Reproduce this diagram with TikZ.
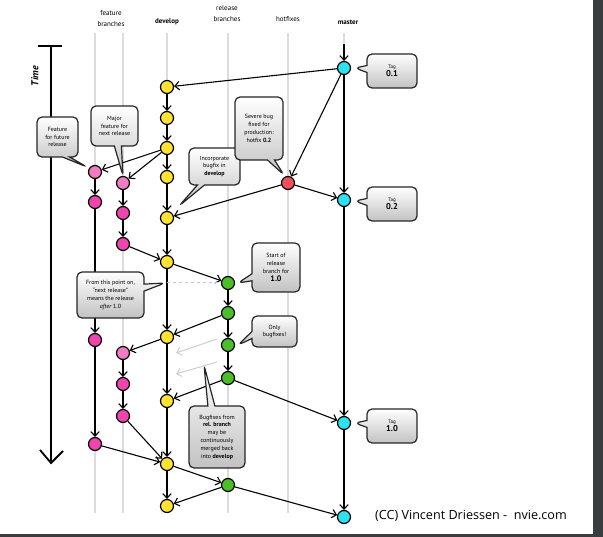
\documentclass[tikz,border=0pt]{standalone}
\usepackage{fontspec}
\setmainfont{PT Sans}
\newfontfamily\creditfont{Open Sans}
\usepackage{tikz}
\usepackage{xcolor}
\usetikzlibrary{positioning,shapes.callouts,arrows.meta}

\definecolor{devyellow}{HTML}{FFE233}
\definecolor{featpink}{HTML}{EE45AE}
\definecolor{featlight}{HTML}{F27CC4}
\definecolor{relgreen}{HTML}{4CBE2A}
\definecolor{mastercyan}{HTML}{2DE1F1}
\definecolor{hotred}{HTML}{F0505C}
\definecolor{lanegray}{HTML}{DCDCDC}
\definecolor{framegray}{HTML}{3A3D3F}

\begin{document}
\begin{tikzpicture}[x=1pt,y=-1pt]
\tikzstyle{every node}+=[inner sep=0pt]
\tikzstyle{commit}=[circle, draw=black, line width=1.2pt, minimum size=13pt]
\tikzstyle{flow}=[line width=1.1pt, -{Straight Barb[length=4.5pt,width=8.5pt]}]
\tikzstyle{ghost}=[flow, draw=black!18]
\tikzstyle{lane}=[line width=2pt, draw=lanegray]
\tikzstyle{lanelabel}=[align=center, font=\fontsize{7}{11}\selectfont]
\tikzstyle{bubble}=[rectangle callout, rounded corners=5pt, draw=black!85, line width=1.2pt,
  top color=white, bottom color=black!24, align=center, callout pointer width=7pt,
  font=\fontsize{6}{7.8}\selectfont]
\useasboundingbox (0,0) rectangle (603,537);
\fill[framegray] (593,0) rectangle (603,537);
\fill[framegray] (0,534) rectangle (603,537);
% lanes
\foreach \x in {95,123,167,228,288,344}
  \draw[lane] (\x,33) -- (\x,513);
\node[lanelabel] (lblfeat) at (111,18.5) {feature\\branches};
\node[lanelabel, font=\bfseries\fontsize{7}{11}\selectfont] (lbldev) at (167,22) {develop};
\node[lanelabel] (lblrel) at (227,13.5) {release\\branches};
\node[lanelabel] (lblhot) at (288,19) {hotfixes};
\node[lanelabel, font=\bfseries\fontsize{7}{11}\selectfont] (lblmaster) at (348,22) {master};
% time axis
\draw[line width=2pt] (38,46) -- (62,46);
\draw[line width=1.8pt] (51,46) -- (51,461);
\draw[line width=1.8pt] (40,450) -- (51,463) -- (63,451);
\node[rotate=90, font=\bfseries\itshape\fontsize{10}{12}\selectfont] (timelbl) at (35,76) {Time};
% master and hotfix
\node[commit, fill=mastercyan] (m1) at (344,68) {};
\node[commit, fill=mastercyan] (m2) at (344,200) {};
\node[commit, fill=mastercyan] (m3) at (344,423) {};
\node[commit, fill=mastercyan] (m4) at (344,517) {};
\node[commit, fill=hotred] (h1) at (288,183) {};
% develop
\node[commit, fill=devyellow] (d1) at (167,87) {};
\node[commit, fill=devyellow] (d2) at (167,118) {};
\node[commit, fill=devyellow] (d3) at (167,148) {};
\node[commit, fill=devyellow] (d4) at (167,177) {};
\node[commit, fill=devyellow] (d5) at (167,218) {};
\node[commit, fill=devyellow] (d6) at (167,262) {};
\node[commit, fill=devyellow] (d7) at (167,337) {};
\node[commit, fill=devyellow] (d8) at (167,401) {};
\node[commit, fill=devyellow] (d9) at (167,464) {};
\node[commit, fill=devyellow] (d10) at (167,506) {};
% release
\node[commit, fill=relgreen] (r1) at (228,283) {};
\node[commit, fill=relgreen] (r2) at (228,313) {};
\node[commit, fill=relgreen] (r3) at (228,345) {};
\node[commit, fill=relgreen] (r4) at (228,378) {};
\node[commit, fill=relgreen] (r5) at (228,485) {};
% features
\node[commit, fill=featlight] (fa1) at (95,172) {};
\node[commit, fill=featpink] (fa2) at (95,202) {};
\node[commit, fill=featpink] (fa3) at (95,340) {};
\node[commit, fill=featpink] (fa4) at (95,444) {};
\node[commit, fill=featlight] (fb1) at (123,183) {};
\node[commit, fill=featpink] (fb2) at (123,213) {};
\node[commit, fill=featpink] (fb3) at (123,244) {};
\node[commit, fill=featlight] (fb4) at (123,353) {};
\node[commit, fill=featpink] (fb5) at (123,384) {};
\node[commit, fill=featpink] (fb6) at (123,416) {};
\coordinate (mtop) at (344,44);
\coordinate (devmark) at (167,283);
\coordinate (gsa) at (217,339);
\coordinate (gea) at (176,353);
\coordinate (gsb) at (217,362);
\coordinate (geb) at (176,374);
% connectors
\draw[flow] (mtop) -- (m1);
\draw[flow] (m1) -- (m2);
\draw[flow] (m2) -- (m3);
\draw[flow] (m3) -- (m4);
\draw[flow] (m1) -- (d1);
\draw[flow] (m1) -- (h1);
\draw[flow] (h1) -- (m2);
\draw[flow] (h1) -- (d5);
\draw[flow] (d1) -- (d2);
\draw[flow] (d2) -- (d3);
\draw[flow] (d3) -- (d4);
\draw[flow] (d4) -- (d5);
\draw[flow] (d5) -- (d6);
\draw[flow] (d6) -- (d7);
\draw[flow] (d7) -- (d8);
\draw[flow] (d8) -- (d9);
\draw[flow] (d9) -- (d10);
\draw[flow] (d3) -- (fa1);
\draw[flow] (d3) -- (fb1);
\draw[flow] (fa1) -- (fa2);
\draw[flow] (fa2) -- (fa3);
\draw[flow] (fa3) -- (fa4);
\draw[flow] (fa4) -- (d9);
\draw[flow] (fb1) -- (fb2);
\draw[flow] (fb2) -- (fb3);
\draw[flow] (fb3) -- (d6);
\draw[flow] (d7) -- (fb4);
\draw[flow] (fb4) -- (fb5);
\draw[flow] (fb5) -- (fb6);
\draw[flow] (fb6) -- (d9);
\draw[flow] (d6) -- (r1);
\draw[flow] (r1) -- (r2);
\draw[flow] (r2) -- (r3);
\draw[flow] (r3) -- (r4);
\draw[flow] (r2) -- (d7);
\draw[flow] (r4) -- (d8);
\draw[flow] (r4) -- (m3);
\draw[flow] (d9) -- (r5);
\draw[flow] (r5) -- (d10);
\draw[flow] (r5) -- (m4);
\draw[dashed, draw=black!22, line width=1pt] (devmark) -- (r1);
\draw[ghost] (gsa) -- (gea);
\draw[ghost] (gsb) -- (geb);
% callouts
\node[bubble, minimum width=41pt, minimum height=40pt, callout absolute pointer={(87,167)}]
  (cfuture) at (57.5,137) {Feature\\for future\\release};
\node[bubble, minimum width=47pt, minimum height=40pt, callout absolute pointer={(123,176)}]
  (cmajor) at (114.5,126) {Major\\feature for\\next release};
\node[bubble, minimum width=51pt, minimum height=37pt, callout absolute pointer={(179,206)}]
  (cincorp) at (214.5,166.5) {Incorporate\\bugfix in\\\textbf{develop}};
\node[bubble, minimum width=48pt, minimum height=63pt, callout absolute pointer={(284,175)}]
  (csevere) at (259,128.5) {Severe bug\\fixed for\\production:\\hotfix \textbf{0.2}};
\node[bubble, minimum width=48pt, minimum height=49pt, callout absolute pointer={(238,283)}]
  (cstart) at (276,267.5) {Start of\\release\\branch for\\{\bfseries\fontsize{8}{9}\selectfont 1.0}};
\node[bubble, minimum width=67pt, minimum height=46pt, callout absolute pointer={(165,283)}]
  (cnext) at (110.5,295) {From this point on,\\``next release''\\means the release\\\emph{after} 1.0};
\node[bubble, minimum width=45pt, minimum height=31pt, callout absolute pointer={(238,345)}]
  (conly) at (274.5,331.5) {Only\\bugfixes!};
\node[bubble, minimum width=56pt, minimum height=62pt, callout absolute pointer={(204,365)}]
  (cmerge) at (217,437) {Bugfixes from\\\textbf{rel. branch}\\may be\\continuously\\merged back\\into \textbf{develop}};
\node[bubble, minimum width=50pt, minimum height=34pt, callout absolute pointer={(355,68)}]
  (ctaga) at (392,71) {{\fontsize{5}{6}\selectfont Tag}\\{\bfseries\fontsize{8.5}{10}\selectfont 0.1}};
\node[bubble, minimum width=50pt, minimum height=34pt, callout absolute pointer={(355,201)}]
  (ctagb) at (392,204) {{\fontsize{5}{6}\selectfont Tag}\\{\bfseries\fontsize{8.5}{10}\selectfont 0.2}};
\node[bubble, minimum width=50pt, minimum height=34pt, callout absolute pointer={(355,423)}]
  (ctagc) at (392,426) {{\fontsize{5}{6}\selectfont Tag}\\{\bfseries\fontsize{8.5}{10}\selectfont 1.0}};
\node[anchor=west, font=\creditfont\fontsize{12.6}{14}\selectfont] (credit) at (375,516)
  {(CC) Vincent Driessen - \ nvie.com};
\end{tikzpicture}
\end{document}
